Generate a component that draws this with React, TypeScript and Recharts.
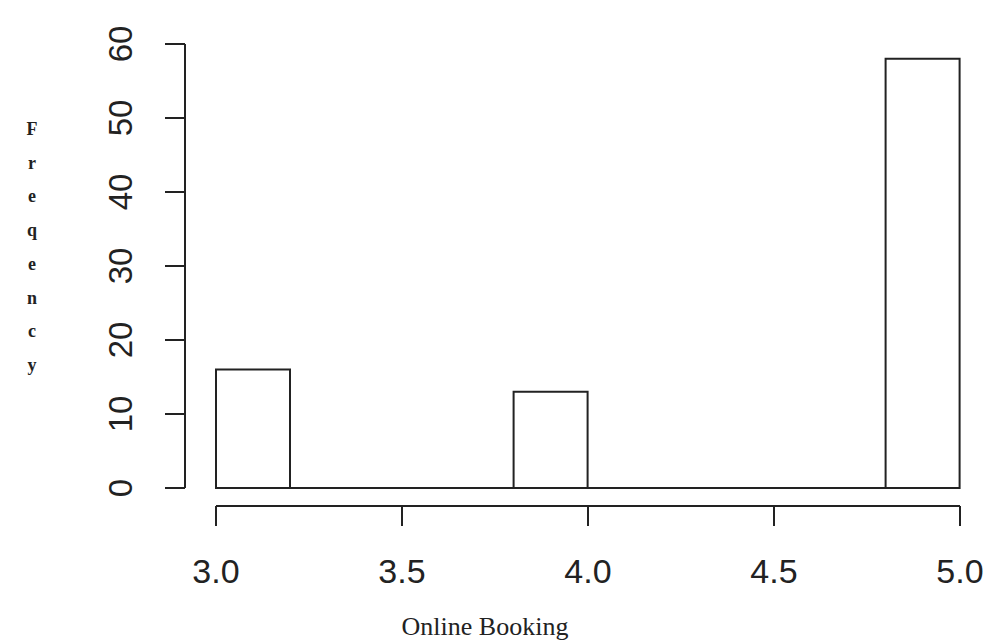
import React from 'react';
import { BarChart, Bar, XAxis, YAxis, ReferenceLine } from 'recharts';

// histogram bins (width 0.2) and their counts
const binStarts = [3.0, 3.2, 3.4, 3.6, 3.8, 4.0, 4.2, 4.4, 4.6, 4.8];
const binLabels = ['3.0-3.2', '3.2-3.4', '3.4-3.6', '3.6-3.8', '3.8-4.0', '4.0-4.2', '4.2-4.4', '4.4-4.6', '4.6-4.8', '4.8-5.0'];
const counts = [16, 0, 0, 0, 13, 0, 0, 0, 0, 58];
const xTicks = [3.0, 3.5, 4.0, 4.5, 5.0];
const yTicks = [0, 10, 20, 30, 40, 50, 60];
const yLetters = ['F', 'r', 'e', 'q', 'e', 'n', 'c', 'y'];

const data = binLabels.map((bin, i) => ({ bin, start: binStarts[i], count: counts[i] }));

const INK = '#222';
const SANS = '"Liberation Sans", Arial, sans-serif';
const SERIF = '"Liberation Serif", "Times New Roman", serif';

const XTick = (props: any) => {
  const { x, y, payload } = props;
  return (
    <text x={x} y={y} textAnchor="middle" fontSize={34} fontFamily={SANS} fill={INK}>
      {Number(payload.value).toFixed(1)}
    </text>
  );
};

const YTick = (props: any) => {
  const { x, y, payload } = props;
  return (
    <text x={x} y={y} textAnchor="middle" fontSize={33} fontFamily={SANS} fill={INK} transform={`rotate(-90 ${x} ${y})`}>
      {payload.value}
    </text>
  );
};

// stacked letters on the left, like the original
const YTitle = (props: any) => {
  const { viewBox } = props;
  return (
    <text x={viewBox.x + 32} y={viewBox.y + 91} textAnchor="middle" fontSize={18} fontWeight="bold" fontFamily={SERIF} fill={INK}>
      {yLetters.map((ch, i) => (
        <tspan key={i} x={viewBox.x + 32} dy={i === 0 ? 0 : 33.7}>{ch}</tspan>
      ))}
    </text>
  );
};

const XTitle = (props: any) => {
  const { viewBox } = props;
  return (
    <text x={485} y={viewBox.y + viewBox.height - 8} textAnchor="middle" fontSize={26} fontFamily={SERIF} fill={INK}>
      Online Booking
    </text>
  );
};

const App: React.FC = () => {
  return (
    <div style={{ position: 'absolute', left: 0, top: 0 }}>
      <BarChart width={989} height={643} data={data} margin={{ top: 44, right: 29, left: 0, bottom: 0 }} barCategoryGap={0} barGap={0}>
        {/* spacer axes give the R-style gap between plot and axes */}
        <XAxis xAxisId="bin" dataKey="bin" height={18} tick={false} axisLine={false} tickLine={false} />
        <XAxis
          xAxisId="num"
          dataKey="start"
          type="number"
          domain={[3, 5]}
          ticks={xTicks}
          height={137}
          tickSize={20}
          tickMargin={57}
          tick={<XTick />}
          axisLine={{ stroke: INK, strokeWidth: 2 }}
          tickLine={{ stroke: INK, strokeWidth: 2 }}
          label={<XTitle />}
        />
        <YAxis yAxisId="axGap" domain={[0, 60]} width={31} tick={false} axisLine={false} tickLine={false} />
        <YAxis
          yAxisId="freq"
          domain={[0, 60]}
          ticks={yTicks}
          width={185}
          tickSize={20}
          tickMargin={33}
          tick={<YTick />}
          axisLine={{ stroke: INK, strokeWidth: 2 }}
          tickLine={{ stroke: INK, strokeWidth: 2 }}
          label={<YTitle />}
        />
        <ReferenceLine xAxisId="bin" yAxisId="freq" y={0} stroke={INK} strokeWidth={2} />
        <Bar xAxisId="bin" yAxisId="freq" dataKey="count" fill="#fff" stroke={INK} strokeWidth={2} isAnimationActive={false} />
      </BarChart>
    </div>
  );
};

export default App;
